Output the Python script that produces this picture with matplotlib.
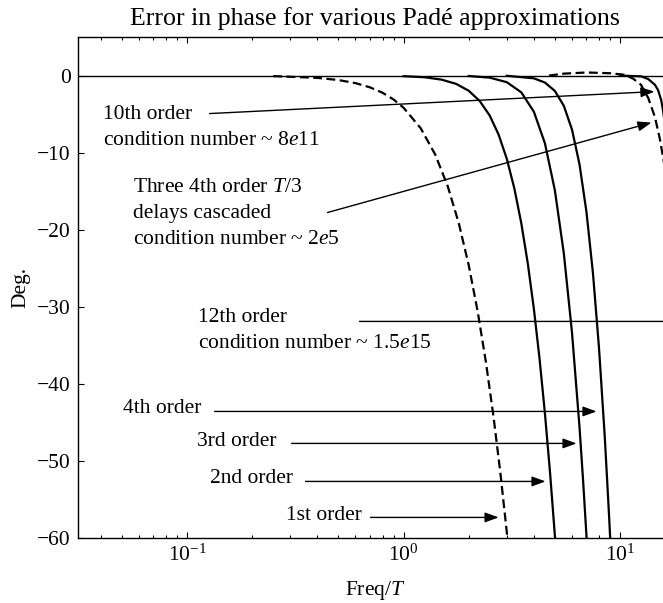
import matplotlib
matplotlib.use("Agg")
import matplotlib.pyplot as plt

# phase error (deg), x is Freq/T
w_1st = [0.25, 0.4, 0.5, 0.6, 0.7, 0.8, 0.9, 1.0, 1.2, 1.4, 1.6, 1.8, 2.0, 2.2, 2.4, 2.6, 2.8, 3.0, 3.05]
err_1st = [-0.07, -0.30, -0.58, -0.98, -1.53, -2.23, -3.11, -4.17, -6.83, -10.23, -14.35, -19.16,
           -24.59, -30.60, -37.12, -44.11, -51.50, -59.27, -61.25]

w_2nd = [1.0, 1.25, 1.5, 1.75, 2.0, 2.25, 2.5, 2.75, 3.0, 3.25, 3.5, 3.75, 4.0, 4.25, 4.5, 4.75, 5.0, 5.1]
err_2nd = [-0.08, -0.22, -0.53, -1.08, -1.97, -3.31, -5.18, -7.67, -10.81, -14.64, -19.17, -24.38,
           -30.26, -36.76, -43.85, -51.49, -59.64, -63.0]

w_3rd = [2.0, 2.5, 3.0, 3.5, 4.0, 4.5, 5.0, 5.5, 6.0, 6.5, 6.75, 7.0, 7.1]
err_3rd = [-0.06, -0.27, -0.86, -2.18, -4.69, -8.80, -14.87, -23.04, -33.33, -45.62, -52.47, -59.76, -62.79]

w_4th = [3.0, 4.0, 4.5, 5.0, 5.5, 6.0, 6.5, 7.0, 7.5, 8.0, 8.5, 8.9, 9.0, 9.1]
err_4th = [-0.03, -0.36, -0.91, -1.99, -3.92, -7.00, -11.52, -17.71, -25.65, -35.39, -46.80, -57.10,
           -59.83, -62.61]

# three 4th order T/3 delays in cascade
w_casc = [4.7, 5.5, 7.0, 9.0, 10.5, 11.5, 12.5, 13.5, 14.5, 15.3, 16.0, 17.0, 17.6]
err_casc = [0.0, 0.25, 0.4, 0.3, 0.1, -0.4, -1.2, -2.9, -5.4, -8.3, -11.5, -16.5, -20.0]

w_10th = [10.0, 12.5, 13.5, 14.5, 15.0, 15.5, 15.8, 16.2, 17.0, 17.6]
err_10th = [0.0, -0.1, -0.45, -1.2, -1.9, -3.2, -4.5, -6.8, -12.0, -16.0]

plt.rcParams["font.family"] = ["Liberation Serif", "DejaVu Serif"]
plt.rcParams["mathtext.fontset"] = "custom"
plt.rcParams["mathtext.rm"] = "Liberation Serif"
plt.rcParams["mathtext.it"] = "Liberation Serif:italic"
plt.rcParams["font.size"] = 15.5

fig = plt.figure(figsize=(6.63, 6.03), dpi=100)
# right edge of the axes sits just past the picture, as in the reference
ax = fig.add_axes([0.1172, 0.1078, 0.8979, 0.8308])

ax.axhline(0, color="black", lw=1.0)
dash = dict(color="black", lw=1.6, dashes=(4, 2))
solid = dict(color="black", lw=1.6)
ax.plot(w_1st, err_1st, **dash)
ax.plot(w_2nd, err_2nd, **solid)
ax.plot(w_3rd, err_3rd, **solid)
ax.plot(w_4th, err_4th, **solid)
ax.plot(w_casc, err_casc, **dash)
ax.plot(w_10th, err_10th, **solid)

ax.set_xscale("log")
ax.set_xlim(10 ** -1.505, 10 ** 1.2448)
ax.set_ylim(-60, 5)
ax.set_yticks([0, -10, -20, -30, -40, -50, -60])

ax.tick_params(which="both", direction="in", top=True, right=True, width=0.8)
ax.tick_params(which="major", length=4.5, pad=5)
ax.tick_params(which="minor", length=2.5)
for side in ax.spines.values():
    side.set_linewidth(1.0)

ax.set_title("Error in phase for various Padé approximations", pad=9)
ax.set_xlabel("Freq/$T$", labelpad=9)
ax.set_ylabel("Deg.", labelpad=5)

# labels
ls = 1.5
ax.text(0.0411, -6.8, "10th order\ncondition number ~ 8$e$11", va="center", ha="left", linespacing=ls)
ax.text(0.0560, -17.9, "Three 4th order $T$/3\ndelays cascaded\ncondition number ~ 2$e$5",
        va="center", ha="left", linespacing=ls)
ax.text(0.1118, -33.07, "12th order\ncondition number ~ 1.5$e$15", va="center", ha="left",
        linespacing=ls)
ax.text(0.0504, -43.19, "4th order", va="center", ha="left")
ax.text(0.1106, -47.47, "3rd order", va="center", ha="left")
ax.text(0.1270, -52.27, "2nd order", va="center", ha="left")
ax.text(0.2851, -57.07, "1st order", va="center", ha="left")

head = dict(arrowstyle="-|>,head_length=0.55,head_width=0.2", mutation_scale=15,
            color="black", lw=1.0, shrinkA=0, shrinkB=0)
arrows = [
    ((0.127, -4.93), (14.43, -2.08)),
    ((0.4456, -17.77), (13.98, -6.10)),
    ((0.1340, -43.58), (7.79, -43.58)),
    ((0.3039, -47.73), (6.30, -47.73)),
    ((0.3526, -52.66), (4.53, -52.66)),
    ((0.704, -57.33), (2.75, -57.33)),
]
for start, end in arrows:
    ax.annotate("", xy=end, xytext=start, arrowprops=head)
# 12th order pointer runs off the right edge
ax.annotate("", xy=(17.5, -31.9), xytext=(0.626, -31.9),
            arrowprops=dict(arrowstyle="-", color="black", lw=1.0, shrinkA=0, shrinkB=0))

fig.savefig("out.png", dpi=100)
